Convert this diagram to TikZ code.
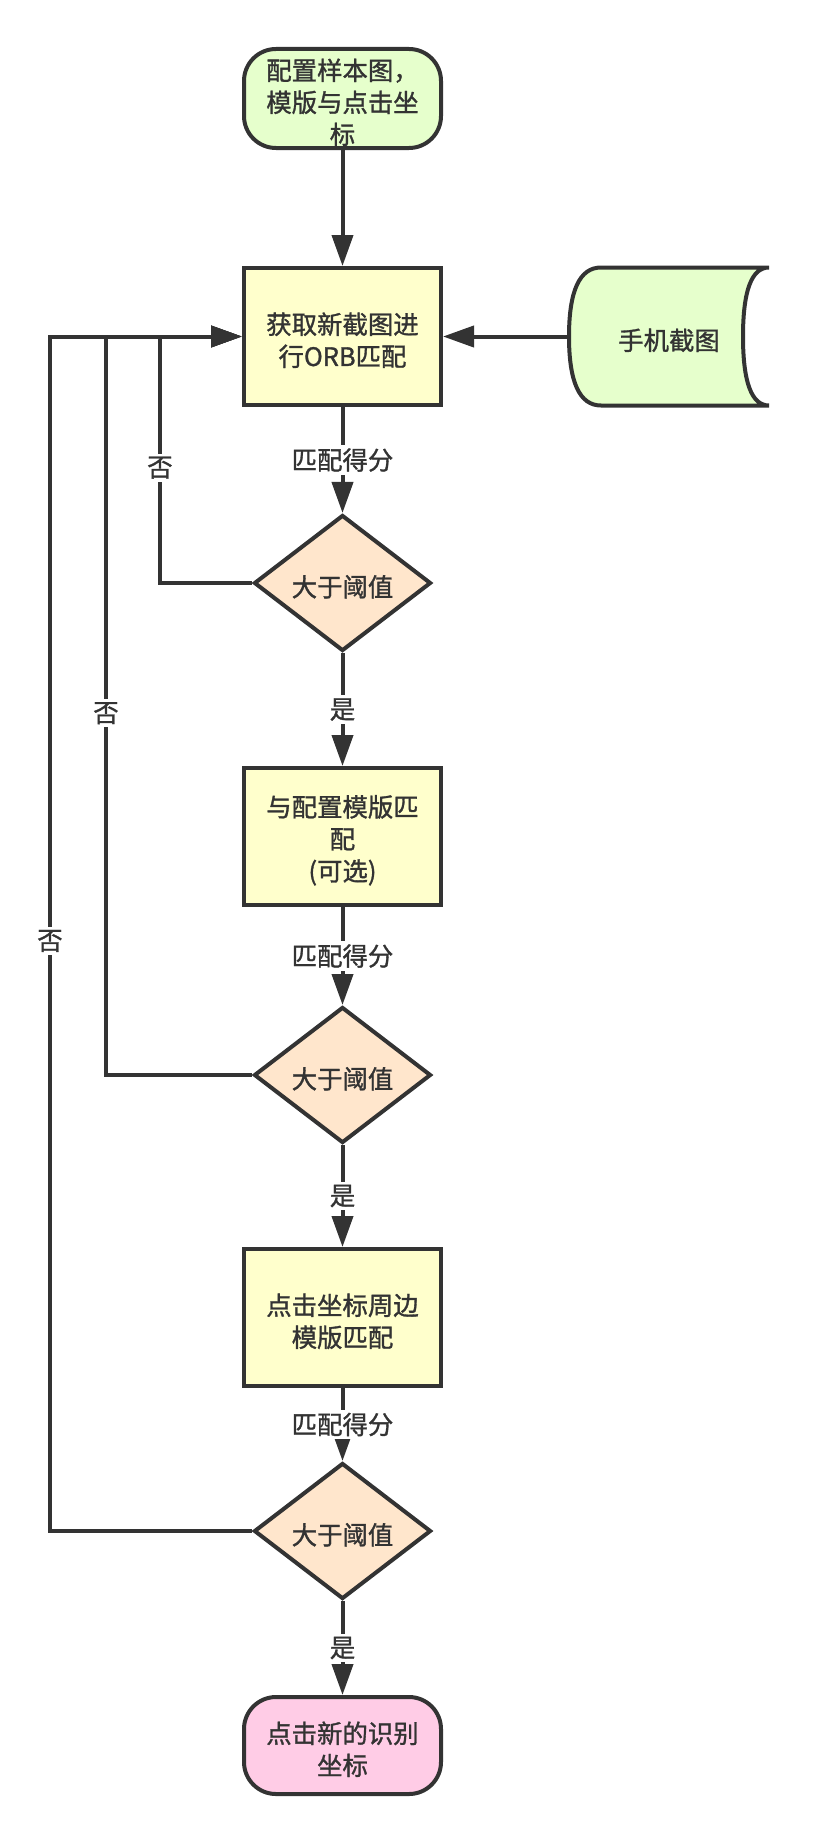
\documentclass[tikz,border=0pt]{standalone}
\usepackage{fontspec}
\setmainfont{Noto Sans CJK SC}[FakeBold=1.2]
\usetikzlibrary{positioning,arrows.meta,shapes.geometric,calc,backgrounds}
\definecolor{edgegray}{HTML}{333333}
\definecolor{termgreen}{HTML}{E6FFCC}
\definecolor{stepyellow}{HTML}{FFFFCC}
\definecolor{testpeach}{HTML}{FFE6CC}
\definecolor{endpink}{HTML}{FFCCE6}
\newcommand{\nodestrut}{\rule{0pt}{14.5pt}}

\begin{document}
\begin{tikzpicture}[
  line width=2pt,
  color=edgegray,
  font=\fontsize{12.7pt}{16pt}\selectfont,
  term/.style={draw, rounded corners=16pt, align=center, minimum width=98.5pt, minimum height=48.5pt, inner sep=1pt},
  stepbox/.style={draw, fill=stepyellow, align=center, minimum width=98.5pt, minimum height=68.5pt, inner sep=1pt},
  test/.style={draw, fill=testpeach, diamond, align=center, minimum width=88.5pt, minimum height=68pt, inner sep=0pt},
  lbl/.style={fill=white, inner sep=1.5pt},
  >={Triangle[length=15.5pt, width=10.5pt]}
]
\useasboundingbox (0,0) rectangle (410pt,-923pt);
\node[term, fill=termgreen] (cfg) at (171.25pt,-49.25pt) {\nodestrut{}配置样本图，\\模版与点击坐\\标};
\node[stepbox, below=58pt of cfg] (orb) {\nodestrut{}获取新截图进\\行ORB匹配};
\node[minimum width=100pt, minimum height=69pt, outer sep=0pt, right=63pt of orb] (phone) {\nodestrut{}手机截图};
\node[test, below=53pt of orb] (test1) {\nodestrut{}大于阈值};
\node[stepbox, below=56.5pt of test1] (tmpl) {\nodestrut{}与配置模版匹\\配\\(可选)};
\node[test, below=49pt of tmpl] (test2) {\nodestrut{}大于阈值};
\node[stepbox, below=51pt of test2] (near) {\nodestrut{}点击坐标周边\\模版匹配};
\node[test, below=36.5pt of near] (test3) {\nodestrut{}大于阈值};
\node[term, fill=endpink, below=47pt of test3] (tap) {\nodestrut{}点击新的识别\\坐标};
\begin{scope}[on background layer]
\draw[line width=2pt, draw=edgegray, fill=termgreen]
  ($(phone.north west)+(16pt,0)$) -- (phone.north east)
  .. controls ($(phone.north east)+(-8.67pt,0)$) and ($($(phone.east)+(-13pt,0)$)!0.667!($(phone.north east)+(-13pt,0)$)$)
  .. ($(phone.east)+(-13pt,0)$)
  .. controls ($($(phone.east)+(-13pt,0)$)!0.667!($(phone.south east)+(-13pt,0)$)$) and ($(phone.south east)+(-8.67pt,0)$)
  .. (phone.south east)
  -- ($(phone.south west)+(16pt,0)$)
  .. controls ($(phone.south west)+(5.33pt,0)$) and ($(phone.west)!0.667!(phone.south west)$) .. (phone.west)
  .. controls ($(phone.west)!0.667!(phone.north west)$) and ($(phone.north west)+(5.33pt,0)$) .. cycle;
\end{scope}
\draw[->] (cfg) -- (orb);
\draw[->] (phone) -- (orb);
\draw[->] (orb) -- (test1) node[lbl, midway] {匹配得分};
\draw[->] (test1) -- (tmpl) node[lbl, midway] {是};
\draw[->] (tmpl) -- (test2) node[lbl, midway] {匹配得分};
\draw[->] (test2) -- (near) node[lbl, midway] {是};
\draw[->] (near) -- (test3) node[lbl, midway] {匹配得分};
\draw[->] (test3) -- (tap) node[lbl, midway] {是};
\draw[->] (test1.west) -- ++(-46pt,0) |- (orb.west) node[lbl, pos=0.234] {否};
\draw[->] (test2.west) -- ++(-73pt,0) |- (orb.west) node[lbl, pos=0.245] {否};
\draw[->] (test3.west) -- ++(-101pt,0) |- (orb.west) node[lbl, pos=0.247] {否};
\end{tikzpicture}
\end{document}
